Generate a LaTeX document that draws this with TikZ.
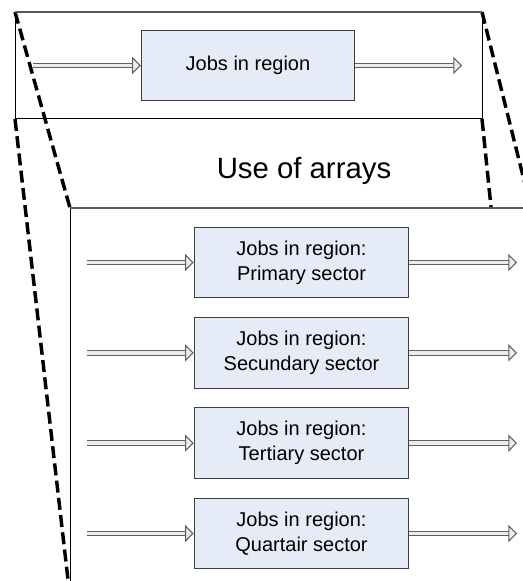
\documentclass[tikz,border=0pt]{standalone}
\usepackage{fontspec}
\setmainfont{Liberation Sans}
\usetikzlibrary{arrows.meta, positioning}
\definecolor{boxfill}{RGB}{230,236,247}
\definecolor{boxline}{RGB}{64,64,64}
\definecolor{arrowfill}{RGB}{236,236,240}
\tikzset{
  % boxes in the job model
  jobbox/.style={
    rectangle, fill=boxfill, draw=boxline, line width=0.75pt,
    minimum width=161pt, minimum height=53pt,
    align=center, font=\fontsize{15pt}{18.75pt}\selectfont
  },
  % hollow flow arrow
  flowarrow/.style={
    draw=gray!75!black, line width=0.8pt,
    double=arrowfill, double distance=2.6pt,
    -{Triangle[length=6.5pt, width=13pt, fill=arrowfill, line width=0.8pt]}
  },
  zoomline/.style={black, line width=2.6pt, dash pattern=on 9pt off 4pt},
  frameline/.style={black, line width=0.75pt},
  frametop/.style={gray!70!black, line width=0.9pt}
}

\begin{document}
\begin{tikzpicture}[x=0.75pt, y=-0.75pt]
  \useasboundingbox (0,0) rectangle (523,581);
  \clip (0,0) rectangle (523,581);

  % frame corners
  \coordinate (ttl) at (15,12);
  \coordinate (ttr) at (482,12);
  \coordinate (tbl) at (15,119);
  \coordinate (tbr) at (482,119);
  \coordinate (ltl) at (70,208);
  \coordinate (ltr) at (531,208);
  \coordinate (lbl) at (70,597);
  \coordinate (lbr) at (531,597);

  % zoom lines
  \draw[zoomline] (ttl) -- (ltl);
  \draw[zoomline] (tbl) -- (lbl);
  \draw[zoomline] (ttr) -- (ltr);
  \draw[zoomline] (tbr) -- (lbr);

  % frames
  \draw[frameline] (ttr) -- (tbr) -- (tbl) -- (ttl);
  \draw[frametop] (ttl) -- (ttr);
  \fill[white] (ltl) rectangle (lbr);
  \draw[frameline] (ltl) -- (lbl);
  \draw[frametop] (ltl) -- (ltr);

  % top model
  \node[jobbox, minimum width=160pt] (region) at (248,65.5) {Jobs in region};
  \coordinate (in0) at (33,65.5);
  \coordinate (out0) at (462,65.5);
  \draw[flowarrow] (in0) -- (region);
  \draw[flowarrow] (region) -- (out0);

  \node[font=\fontsize{22pt}{26pt}\selectfont, anchor=base] (title) at (304,178) {Use of arrays};

  % array model
  \node[jobbox] (primary) at (301.5,262.5) {Jobs in region:\\Primary sector};
  \node[jobbox, below=14pt of primary] (secundary) {Jobs in region:\\Secundary sector};
  \node[jobbox, below=14pt of secundary] (tertiary) {Jobs in region:\\Tertiary sector};
  \node[jobbox, below=14pt of tertiary] (quartair) {Jobs in region:\\Quartair sector};

  \foreach \s in {primary, secundary, tertiary, quartair} {
    \coordinate (in-\s) at (\s.west -| 87,0);
    \coordinate (out-\s) at (\s.east -| 517,0);
    \draw[flowarrow] (in-\s) -- (\s);
    \draw[flowarrow] (\s) -- (out-\s);
  }

\end{tikzpicture}
\end{document}
